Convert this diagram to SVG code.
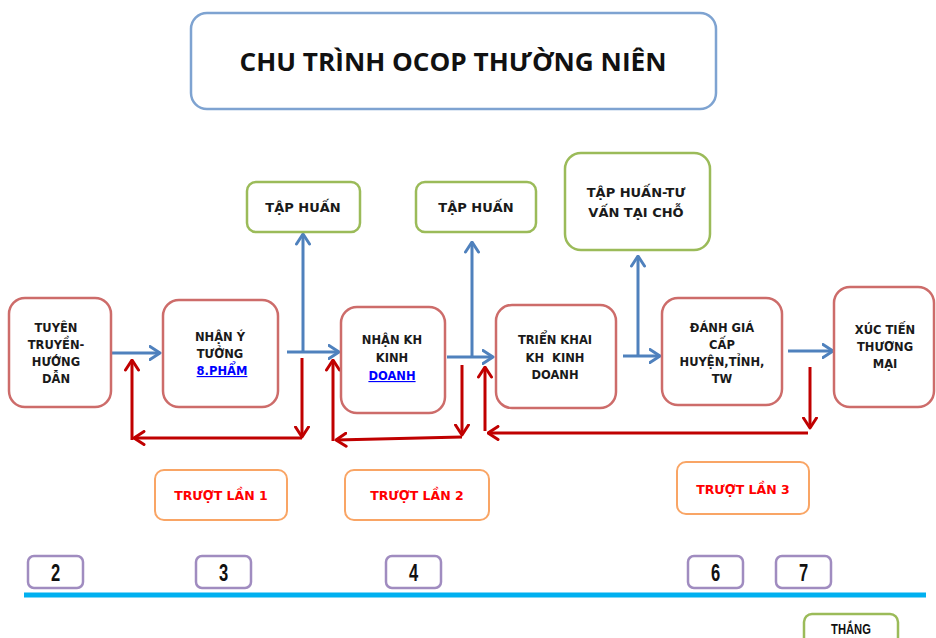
<svg xmlns="http://www.w3.org/2000/svg" width="936" height="638" viewBox="0 0 936 638">
<defs>
<style>
.main{fill:#fff;stroke:#cd6c6a;stroke-width:2.5}
.green{fill:#fff;stroke:#9bbb59;stroke-width:2.5}
.orange{fill:#fff;stroke:#f9a565;stroke-width:2}
.purple{fill:#fff;stroke:#a08cc0;stroke-width:2.5}
.t{font-family:"DejaVu Sans","Liberation Sans",sans-serif;font-weight:bold;font-size:11.5px;fill:#1a1a1a;text-anchor:middle}
.tg{font-family:"DejaVu Sans","Liberation Sans",sans-serif;font-weight:bold;font-size:13px;fill:#1a1a1a;text-anchor:middle}
.link{fill:#0000ff;text-decoration:underline}
.tr{font-family:"DejaVu Sans","Liberation Sans",sans-serif;font-weight:bold;font-size:12.5px;fill:#ff0000;text-anchor:middle}
.num{font-family:"Liberation Sans",sans-serif;font-weight:bold;font-size:23px;fill:#111;text-anchor:middle}
.blue{fill:none;stroke:#4f81bd;stroke-width:3;marker-end:url(#ab)}
.red{fill:none;stroke:#c00000;stroke-width:3;marker-end:url(#ar)}
</style>
<marker id="ab" viewBox="0 0 13 16" refX="11.5" refY="8" markerWidth="13" markerHeight="16" markerUnits="userSpaceOnUse" orient="auto">
<path d="M1.5,1.5 L11.5,8 L1.5,14.5" fill="none" stroke="#4f81bd" stroke-width="3" stroke-linecap="round" stroke-linejoin="round"/>
</marker>
<marker id="ar" viewBox="0 0 13 16" refX="11.5" refY="8" markerWidth="13" markerHeight="16" markerUnits="userSpaceOnUse" orient="auto">
<path d="M1.5,1.5 L11.5,8 L1.5,14.5" fill="none" stroke="#c00000" stroke-width="3" stroke-linecap="round" stroke-linejoin="round"/>
</marker>
</defs>
<rect width="936" height="638" fill="#fff"/>

<g id="title">
<rect x="191" y="13" width="525" height="96" rx="16" fill="#fff" stroke="#7ea3d1" stroke-width="2.5"/>
<text x="453" y="71" font-family="'Open Sans','Liberation Sans',sans-serif" font-weight="bold" font-size="25" fill="#111" text-anchor="middle" textLength="427" lengthAdjust="spacingAndGlyphs">CHU TRÌNH OCOP THƯỜNG NIÊN</text>
</g>

<g id="connectors">
<path class="blue" d="M112,353 H160"/>
<path class="blue" d="M287,352 H339"/>
<path class="blue" d="M303,352 V234"/>
<path class="blue" d="M447,357 H493"/>
<path class="blue" d="M472,357 V242"/>
<path class="blue" d="M623,356 H660"/>
<path class="blue" d="M638,356 V256"/>
<path class="blue" d="M788,351 H833"/>
<path class="red" d="M302,358 V437"/>
<path class="red" d="M302,438 H134"/>
<path class="red" d="M132,440 V360"/>
<path class="red" d="M462,365 V435"/>
<path class="red" d="M462,437 L336,440"/>
<path class="red" d="M333,441 V360"/>
<path class="red" d="M810,367 V428"/>
<path class="red" d="M808,433 H488"/>
<path class="red" d="M485,431 V367"/>
</g>

<g id="n1">
<rect class="main" x="9" y="298" width="102" height="109" rx="16"/>
<text class="t" x="56" y="332">TUYÊN</text>
<text class="t" x="56" y="349">TRUYỀN-</text>
<text class="t" x="56" y="366">HƯỚNG</text>
<text class="t" x="56" y="383">DẪN</text>
</g>
<g id="n2">
<rect class="main" x="163" y="300" width="115" height="107" rx="16"/>
<text class="t" x="220" y="341">NHẬN Ý</text>
<text class="t" x="220" y="358">TƯỞNG</text>
<text class="t link" x="222" y="375">8.PHẨM</text>
</g>
<g id="n3">
<rect class="main" x="341" y="307" width="104" height="106" rx="16"/>
<text class="t" x="392" y="344">NHẬN KH</text>
<text class="t" x="392" y="362">KINH</text>
<text class="t link" x="392" y="380">DOANH</text>
</g>
<g id="n4">
<rect class="main" x="496" y="305" width="120" height="103" rx="16"/>
<text class="t" x="555" y="344">TRIỂN KHAI</text>
<text class="t" x="555" y="362" xml:space="preserve">KH  KINH</text>
<text class="t" x="555" y="379">DOANH</text>
</g>
<g id="n5">
<rect class="main" x="662" y="298" width="120" height="107" rx="16"/>
<text class="t" x="722" y="332">ĐÁNH GIÁ</text>
<text class="t" x="722" y="349">CẤP</text>
<text class="t" x="722" y="366">HUYỆN,TỈNH,</text>
<text class="t" x="722" y="383">TW</text>
</g>
<g id="n6">
<rect class="main" x="834" y="287" width="100" height="120" rx="16"/>
<text class="t" x="885" y="334">XÚC TIẾN</text>
<text class="t" x="885" y="351">THƯƠNG</text>
<text class="t" x="885" y="368">MẠI</text>
</g>

<g id="g1">
<rect class="green" x="247" y="182" width="113" height="50" rx="9"/>
<text class="tg" x="303" y="212">TẬP HUẤN</text>
</g>
<g id="g2">
<rect class="green" x="416" y="182" width="120" height="50" rx="9"/>
<text class="tg" x="476" y="212">TẬP HUẤN</text>
</g>
<g id="g3">
<rect class="green" x="565" y="153" width="145" height="97" rx="16"/>
<text class="tg" x="636" y="197">TẬP HUẤN-TƯ</text>
<text class="tg" x="636" y="217">VẤN TẠI CHỖ</text>
</g>

<g id="o1">
<rect class="orange" x="155" y="470" width="132" height="50" rx="9"/>
<text class="tr" x="221" y="500">TRƯỢT LẦN 1</text>
</g>
<g id="o2">
<rect class="orange" x="345" y="470" width="144" height="50" rx="9"/>
<text class="tr" x="417" y="500">TRƯỢT LẦN 2</text>
</g>
<g id="o3">
<rect class="orange" x="677" y="462" width="132" height="52" rx="9"/>
<text class="tr" x="743" y="494">TRƯỢT LẦN 3</text>
</g>

<g id="timeline">
<line x1="24" y1="595" x2="926" y2="595" stroke="#00b0f0" stroke-width="5"/>
</g>
<g id="m2">
<rect class="purple" x="28" y="556" width="55" height="32" rx="6"/>
<text class="num" transform="translate(55.5,581) scale(0.72,1)">2</text>
</g>
<g id="m3">
<rect class="purple" x="196" y="556" width="55" height="32" rx="6"/>
<text class="num" transform="translate(223.5,581) scale(0.72,1)">3</text>
</g>
<g id="m4">
<rect class="purple" x="386" y="556" width="55" height="32" rx="6"/>
<text class="num" transform="translate(413.5,581) scale(0.72,1)">4</text>
</g>
<g id="m6">
<rect class="purple" x="688" y="556" width="55" height="32" rx="6"/>
<text class="num" transform="translate(715.5,581) scale(0.72,1)">6</text>
</g>
<g id="m7">
<rect class="purple" x="776" y="556" width="55" height="32" rx="6"/>
<text class="num" transform="translate(803.5,581) scale(0.72,1)">7</text>
</g>
<g id="thang">
<rect class="green" x="804" y="614" width="94" height="40" rx="8"/>
<text font-family="'Liberation Sans',sans-serif" font-weight="bold" font-size="14" fill="#111" text-anchor="middle" transform="translate(851,634) scale(0.8,1)">THẮNG</text>
</g>
</svg>
